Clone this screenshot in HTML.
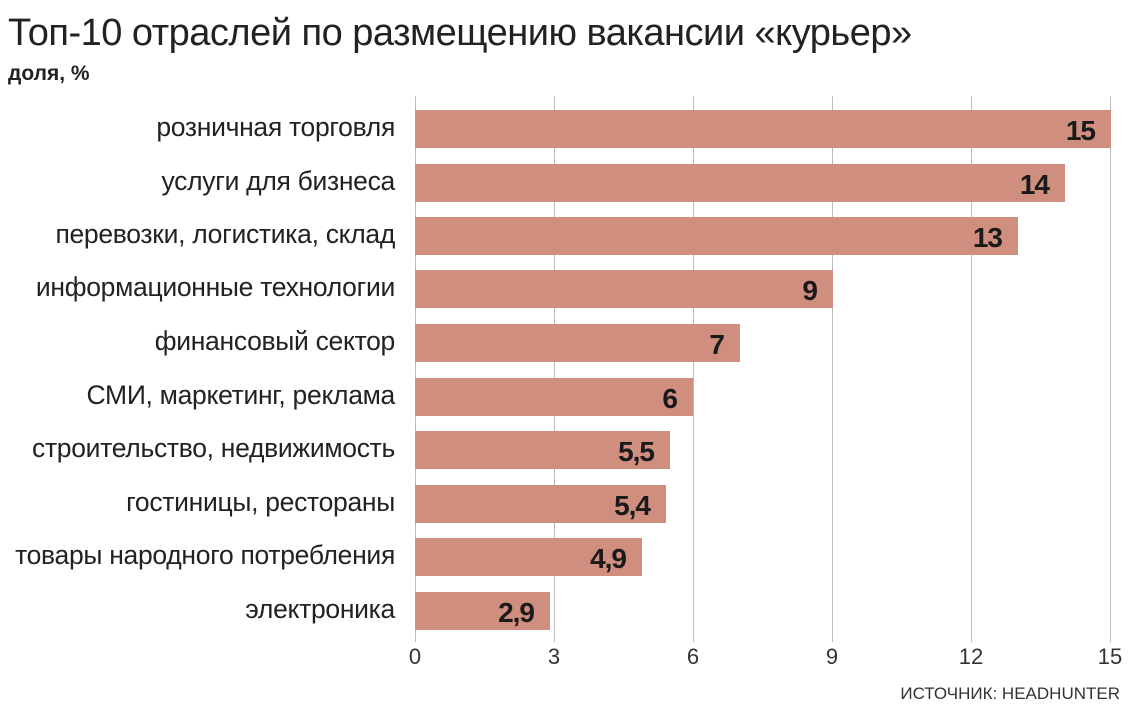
<!DOCTYPE html>
<html><head><meta charset="utf-8"><style>
body{margin:0;width:1144px;height:714px;background:#fff;position:relative;overflow:hidden;font-family:"Liberation Sans","DejaVu Sans",sans-serif;color:#222}
.a{position:absolute;white-space:nowrap}
.g{position:absolute;top:96px;height:546px;width:1px;background:#bbb}
.bar{position:absolute;left:415px;height:38px;background:#cf8e7e}
.lab{position:absolute;right:749px;font-size:26.5px;color:#222;line-height:38px;letter-spacing:-0.3px;white-space:nowrap}
.v{position:absolute;font-size:28px;font-weight:bold;color:#1a1a1a;line-height:38px;text-align:right;top:2px;letter-spacing:-1px}
.t{position:absolute;top:644px;font-size:22px;color:#333;width:40px;text-align:center}
</style></head><body>
<div class="a" style="left:8px;top:12px;font-size:38px;color:#222;letter-spacing:-0.5px">Топ-10 отраслей по размещению вакансии «курьер»</div>
<div class="a" style="left:8px;top:62px;font-size:21px;font-weight:bold;color:#222">доля, %</div>

<div class="g" style="left:415px"></div>
<div class="g" style="left:554px"></div>
<div class="g" style="left:693px"></div>
<div class="g" style="left:832px"></div>
<div class="g" style="left:971px"></div>
<div class="g" style="left:1110px"></div>

<div class="bar" style="top:110px;width:696px"><div class="v" style="right:16px">15</div></div>
<div class="bar" style="top:164px;width:650px"><div class="v" style="right:16px">14</div></div>
<div class="bar" style="top:217px;width:603px"><div class="v" style="right:16px">13</div></div>
<div class="bar" style="top:270px;width:418px"><div class="v" style="right:16px">9</div></div>
<div class="bar" style="top:324px;width:325px"><div class="v" style="right:16px">7</div></div>
<div class="bar" style="top:378px;width:278px"><div class="v" style="right:16px">6</div></div>
<div class="bar" style="top:431px;width:255px"><div class="v" style="right:16px">5,5</div></div>
<div class="bar" style="top:485px;width:251px"><div class="v" style="right:16px">5,4</div></div>
<div class="bar" style="top:538px;width:227px"><div class="v" style="right:16px">4,9</div></div>
<div class="bar" style="top:592px;width:135px"><div class="v" style="right:16px">2,9</div></div>

<div class="lab" style="top:108px">розничная торговля</div>
<div class="lab" style="top:162px">услуги для бизнеса</div>
<div class="lab" style="top:215px">перевозки, логистика, склад</div>
<div class="lab" style="top:268px">информационные технологии</div>
<div class="lab" style="top:322px">финансовый сектор</div>
<div class="lab" style="top:376px">СМИ, маркетинг, реклама</div>
<div class="lab" style="top:429px">строительство, недвижимость</div>
<div class="lab" style="top:483px">гостиницы, рестораны</div>
<div class="lab" style="top:536px">товары народного потребления</div>
<div class="lab" style="top:590px">электроника</div>

<div class="t" style="left:395px">0</div>
<div class="t" style="left:534px">3</div>
<div class="t" style="left:673px">6</div>
<div class="t" style="left:812px">9</div>
<div class="t" style="left:951px">12</div>
<div class="t" style="left:1090px">15</div>

<div class="a" style="right:24px;top:684px;font-size:17px;color:#333">ИСТОЧНИК: HEADHUNTER</div>
</body></html>
